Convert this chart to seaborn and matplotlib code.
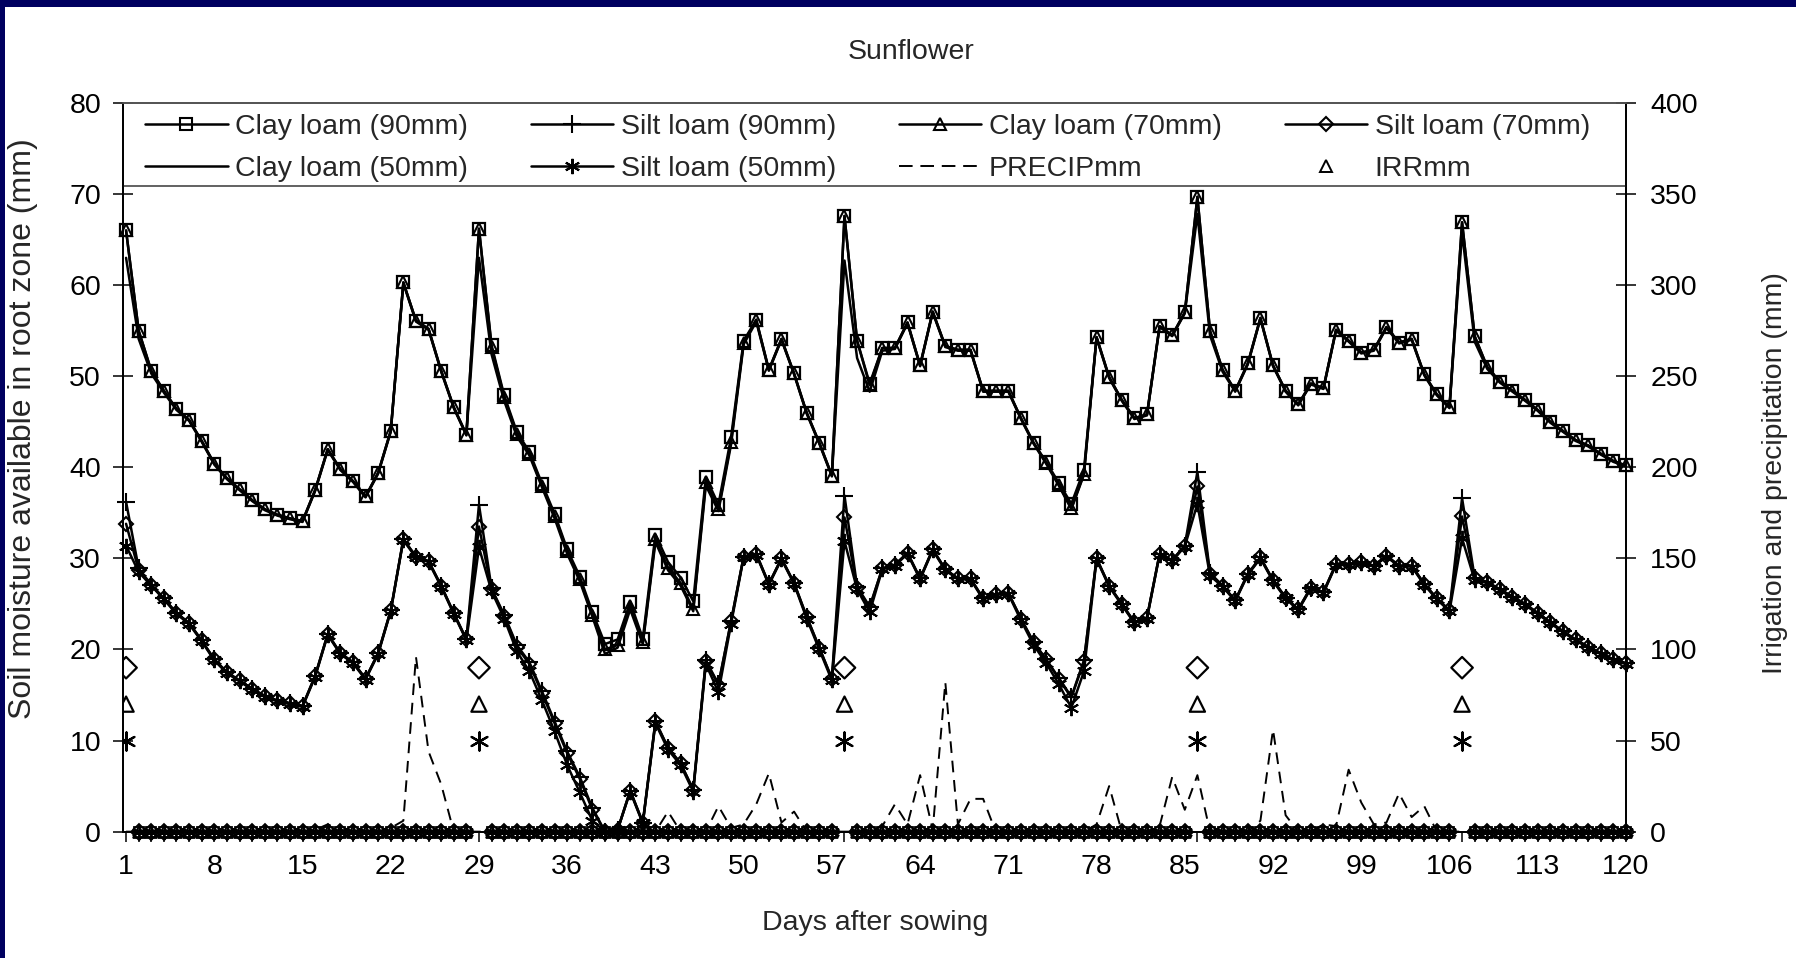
import numpy as np
import matplotlib
matplotlib.use("Agg")
import matplotlib.pyplot as plt
import seaborn as sns
from matplotlib.lines import Line2D
from matplotlib.patches import Rectangle

# ---------------- data ----------------
days = list(range(1, 121))

clay_90 = [66.0, 55.0, 50.6, 48.4, 46.4, 45.2, 42.9, 40.4, 38.8, 37.6,
           36.4, 35.4, 34.8, 34.4, 34.1, 37.5, 42.0, 39.8, 38.5, 36.8,
           39.4, 44.0, 60.3, 56.1, 55.2, 50.6, 46.6, 43.6, 66.2, 53.4,
           47.9, 43.9, 41.7, 38.2, 34.9, 31.0, 28.0, 24.1, 20.6, 21.1,
           25.2, 21.2, 32.6, 29.6, 27.9, 25.3, 38.9, 35.9, 43.3, 53.9,
           56.2, 50.7, 54.1, 50.3, 46.0, 42.7, 39.1, 67.6, 53.9, 49.2,
           53.1, 53.1, 55.9, 51.2, 57.1, 53.3, 52.9, 52.9, 48.4, 48.4,
           48.4, 45.4, 42.7, 40.6, 38.3, 36.0, 39.7, 54.3, 49.9, 47.4,
           45.4, 45.8, 55.5, 54.5, 57.0, 69.7, 55.0, 50.7, 48.4, 51.4,
           56.4, 51.2, 48.4, 46.9, 49.2, 48.7, 55.1, 53.9, 52.6, 52.9,
           55.4, 53.7, 54.1, 50.2, 48.0, 46.6, 66.9, 54.4, 51.0, 49.4,
           48.4, 47.4, 46.3, 45.0, 44.0, 43.0, 42.4, 41.5, 40.7, 40.2]

clay_70 = [66.0, 55.0, 50.6, 48.4, 46.4, 45.2, 42.9, 40.4, 38.8, 37.6,
           36.4, 35.4, 34.8, 34.4, 34.1, 37.5, 42.0, 39.8, 38.5, 36.8,
           39.4, 44.0, 60.3, 56.1, 55.2, 50.6, 46.6, 43.6, 66.2, 53.2,
           47.7, 43.7, 41.5, 38.0, 34.7, 30.8, 27.7, 23.8, 20.0, 20.5,
           24.8, 20.8, 32.1, 29.0, 27.3, 24.4, 38.4, 35.4, 42.8, 53.7,
           56.2, 50.7, 54.1, 50.3, 46.0, 42.7, 39.1, 67.6, 53.9, 49.0,
           53.1, 53.1, 55.9, 51.2, 57.1, 53.3, 52.9, 52.9, 48.4, 48.4,
           48.4, 45.4, 42.7, 40.5, 38.1, 35.5, 39.3, 54.3, 49.9, 47.4,
           45.4, 45.8, 55.5, 54.5, 57.0, 69.7, 55.0, 50.7, 48.4, 51.4,
           56.4, 51.2, 48.4, 46.9, 49.2, 48.7, 55.1, 53.9, 52.6, 52.9,
           55.4, 53.7, 54.1, 50.2, 48.0, 46.6, 66.9, 54.4, 51.0, 49.4,
           48.4, 47.4, 46.3, 45.0, 44.0, 43.0, 42.4, 41.5, 40.7, 40.2]

clay_50 = [63.0, 54.1, 50.3, 48.2, 46.3, 45.1, 42.8, 40.3, 38.7, 37.5,
           36.3, 35.3, 34.7, 34.3, 34.0, 37.4, 41.9, 39.7, 38.4, 36.7,
           39.3, 43.9, 60.2, 56.0, 55.1, 50.5, 46.5, 43.5, 63.0, 52.4,
           47.3, 43.4, 41.3, 37.8, 34.4, 30.5, 27.5, 23.6, 19.5, 20.2,
           24.4, 20.6, 31.8, 28.7, 27.0, 24.2, 38.0, 35.2, 42.5, 53.5,
           56.0, 50.6, 54.0, 50.2, 45.9, 42.6, 39.0, 62.7, 52.0, 48.3,
           52.8, 53.0, 55.8, 51.1, 57.0, 53.2, 52.8, 52.8, 48.3, 48.3,
           48.3, 45.3, 42.6, 40.4, 38.0, 35.4, 39.2, 54.2, 49.8, 47.3,
           45.3, 45.7, 55.4, 54.4, 56.9, 67.8, 54.5, 50.5, 48.3, 51.3,
           56.3, 51.1, 48.3, 46.8, 49.1, 48.6, 55.0, 53.8, 52.5, 52.8,
           55.3, 53.6, 54.0, 50.1, 47.9, 46.5, 65.8, 53.8, 50.8, 49.3,
           48.3, 47.3, 46.2, 44.9, 43.9, 42.9, 42.3, 41.4, 40.6, 40.1]

silt_90 = [36.2, 28.9, 27.1, 25.6, 24.0, 22.9, 21.0, 18.9, 17.5, 16.6,
           15.7, 14.9, 14.4, 14.1, 13.8, 17.1, 21.7, 19.6, 18.6, 16.8,
           19.6, 24.3, 32.1, 30.2, 29.7, 27.0, 24.0, 21.1, 35.9, 26.7,
           23.8, 20.5, 18.6, 15.4, 12.1, 8.8, 6.0, 2.6, 0.0, 0.2,
           4.5, 1.0, 12.1, 9.2, 7.5, 4.6, 18.8, 16.2, 23.1, 30.2,
           30.5, 27.2, 30.0, 27.3, 23.6, 20.2, 16.8, 36.9, 26.9, 24.7,
           28.9, 29.3, 30.6, 27.8, 31.0, 28.8, 27.8, 27.8, 25.6, 26.1,
           26.2, 23.4, 20.8, 18.9, 16.9, 14.8, 18.8, 30.0, 27.0, 25.0,
           23.0, 23.5, 30.5, 29.8, 31.4, 39.5, 28.4, 27.0, 25.4, 28.3,
           30.1, 27.6, 25.7, 24.4, 26.8, 26.3, 29.4, 29.4, 29.6, 29.2,
           30.3, 29.2, 29.2, 27.2, 25.6, 24.3, 36.6, 27.9, 27.4, 26.6,
           25.8, 25.0, 24.0, 23.0, 22.0, 21.1, 20.3, 19.6, 18.9, 18.5]

silt_70 = [33.8, 28.7, 27.1, 25.6, 24.0, 22.9, 21.0, 18.9, 17.5, 16.6,
           15.7, 14.9, 14.4, 14.1, 13.8, 17.1, 21.7, 19.6, 18.6, 16.8,
           19.6, 24.3, 32.1, 30.2, 29.7, 27.0, 24.0, 21.1, 33.5, 26.6,
           23.7, 20.3, 18.4, 15.2, 11.9, 8.6, 5.8, 2.4, 0.0, 0.2,
           4.5, 1.0, 12.1, 9.2, 7.5, 4.6, 18.7, 16.1, 23.1, 30.2,
           30.5, 27.2, 30.0, 27.3, 23.6, 20.2, 16.8, 34.5, 26.8, 24.6,
           28.9, 29.3, 30.6, 27.8, 31.0, 28.8, 27.8, 27.8, 25.6, 26.1,
           26.2, 23.4, 20.8, 18.9, 16.8, 14.7, 18.7, 30.0, 27.0, 25.0,
           23.0, 23.5, 30.5, 29.8, 31.4, 37.9, 28.3, 27.0, 25.4, 28.3,
           30.1, 27.6, 25.7, 24.4, 26.8, 26.3, 29.4, 29.4, 29.6, 29.2,
           30.3, 29.2, 29.2, 27.2, 25.6, 24.3, 34.6, 27.8, 27.4, 26.6,
           25.8, 25.0, 24.0, 23.0, 22.0, 21.1, 20.3, 19.6, 18.9, 18.5]

silt_50 = [31.4, 28.5, 27.0, 25.5, 23.9, 22.8, 20.9, 18.8, 17.4, 16.5,
           15.6, 14.8, 14.3, 14.0, 13.7, 17.0, 21.6, 19.5, 18.5, 16.7,
           19.5, 24.2, 32.0, 30.1, 29.6, 26.9, 23.9, 21.0, 31.2, 26.4,
           23.4, 19.8, 17.6, 14.4, 11.0, 7.3, 4.3, 1.2, 0.0, 0.2,
           4.4, 0.9, 11.9, 9.0, 7.3, 4.4, 18.4, 15.3, 22.8, 30.1,
           30.4, 27.1, 29.9, 27.2, 23.4, 20.0, 16.6, 31.9, 26.6, 24.1,
           28.8, 29.2, 30.5, 27.7, 30.9, 28.7, 27.7, 27.7, 25.5, 26.0,
           26.1, 23.2, 20.5, 18.5, 16.2, 13.6, 17.6, 29.9, 26.9, 24.9,
           22.9, 23.4, 30.4, 29.7, 31.3, 36.0, 28.1, 26.9, 25.3, 28.2,
           30.0, 27.5, 25.6, 24.3, 26.7, 26.2, 29.3, 29.3, 29.5, 29.1,
           30.2, 29.1, 29.1, 27.1, 25.5, 24.2, 32.2, 27.6, 27.3, 26.5,
           25.7, 24.9, 23.9, 22.9, 21.9, 21.0, 20.2, 19.5, 18.8, 18.4]

# precipitation (mm, right axis): days with rain and amounts
precip_days = [16, 17, 18, 22, 23, 24, 25, 26,
               44,
               48, 49, 50, 51, 52, 53, 54,
               61, 62, 63, 64, 65, 66, 67, 68, 69,
               78, 79,
               83, 84, 85, 86,
               91, 92, 93,
               96, 97, 98, 99, 100, 101, 102, 103, 104]
precip_mm = [1, 4, 1, 2, 6, 96, 44, 26,
             11,
             14, 2, 4, 15, 32, 5, 11,
             3, 15, 4, 31, 1, 82, 4, 18, 18,
             4, 25,
             3, 30, 12, 31,
             6, 56, 9,
             4, 3, 34, 16, 4, 5, 21, 8, 14]

# irrigation events (mm, right axis)
irr_days = [1, 29, 58, 86, 107]
irr_levels = [90, 70, 50]

x_ticks = list(range(1, 121, 7))
left_ticks = list(range(0, 81, 10))
right_ticks = list(range(0, 401, 50))

# ---------------- build series ----------------
days_arr = np.array(days)
precip = np.zeros(len(days))
precip[np.array(precip_days) - 1] = precip_mm
is_irr = np.isin(days_arr, irr_days)

# ---------------- style ----------------
sns.set_theme(style="ticks")
plt.rcParams['font.family'] = ['Liberation Sans', 'DejaVu Sans']
plt.rcParams['axes.edgecolor'] = 'black'
plt.rcParams['axes.linewidth'] = 1.2

FS = 20.5
ASTER = (6, 2, 0)
fig = plt.figure(figsize=(17.96, 9.58), dpi=100, facecolor='white')
L, R, T, B = 0.0683, 0.9053, 0.8925, 0.1319
ax = fig.add_axes([L, B, R - L, T - B])
ax2 = ax.twinx()

LW = 1.8
common = dict(color='black', linewidth=LW, estimator=None, sort=False, legend=False, clip_on=False)

# soil moisture series
sns.lineplot(x=days, y=clay_50, ax=ax, **common)
sns.lineplot(x=days, y=clay_70, ax=ax, marker='^', markersize=8.5, markerfacecolor='none',
             markeredgecolor='black', markeredgewidth=1.5, **common)
sns.lineplot(x=days, y=clay_90, ax=ax, marker='s', markersize=9, markerfacecolor='none',
             markeredgecolor='black', markeredgewidth=1.6, **common)
sns.lineplot(x=days, y=silt_50, ax=ax, marker=ASTER, markersize=11,
             markeredgecolor='black', markeredgewidth=1.4, **common)
sns.lineplot(x=days, y=silt_70, ax=ax, marker='D', markersize=7, markerfacecolor='none',
             markeredgecolor='black', markeredgewidth=1.5, **common)
sns.lineplot(x=days, y=silt_90, ax=ax, marker='+', markersize=13,
             markeredgecolor='black', markeredgewidth=1.5, **common)

# precipitation
sns.lineplot(x=days, y=precip, ax=ax2, color='black', linewidth=1.4,
             estimator=None, sort=False, legend=False)
for ln in ax2.get_lines():
    ln.set_linestyle((0, (6, 4)))

# irrigation baseline (zero days) and irrigation events
base = np.where(is_irr, np.nan, 0.0)
base_styles = [('D', 8), ('^', 8), (ASTER, 11), ('s', 7)]
for mk, ms in base_styles:
    ax2.plot(days_arr, base, color='black', linewidth=1.4, marker=mk,
             markersize=ms, markerfacecolor='none', markeredgecolor='black',
             markeredgewidth=1.3, clip_on=False, zorder=3)

event_styles = [('D', 120), ('^', 120), (ASTER, 170)]
for lvl, (mk, s) in zip(irr_levels, event_styles):
    ev = np.where(is_irr, float(lvl), np.nan)
    if mk == ASTER:
        sns.scatterplot(x=days_arr, y=ev, ax=ax2, marker=mk, s=s, color='black',
                        linewidth=1.6, legend=False, zorder=4)
    else:
        sns.scatterplot(x=days_arr, y=ev, ax=ax2, marker=mk, s=s, facecolor='none',
                        edgecolor='black', linewidth=1.6, legend=False, zorder=4)

# ---------------- axes ----------------
ax.set_xlim(0.73, 120)
ax.set_ylim(0, 80)
ax2.set_ylim(0, 400)
ax.set_xticks(x_ticks)
ax.set_xticks(days, minor=True)
ax.set_yticks(left_ticks)
ax2.set_yticks(right_ticks)
ax.set_xlabel("")
ax.set_ylabel("")
ax2.set_ylabel("")

ax.tick_params(axis='x', which='both', direction='out', length=7, width=1.1,
               labelsize=FS, pad=9, colors='black')
ax.tick_params(axis='y', which='major', direction='inout', length=15, width=1.1,
               labelsize=FS, pad=8, colors='black')
ax2.tick_params(axis='y', which='major', direction='inout', length=15, width=1.1,
                labelsize=FS, pad=10, colors='black')

for a in (ax, ax2):
    for s in ('left', 'right', 'bottom'):
        a.spines[s].set_color('black')
        a.spines[s].set_linewidth(1.3)
    a.spines['top'].set_color('#555555')
    a.spines['top'].set_linewidth(1.3)

# legend separator line (bottom of legend box)
ax.axhline(70.9, color='#555555', linewidth=1.3, zorder=5)

# ---------------- legend ----------------
def h(marker=None, ms=8, ls='-', mfc='none', mew=1.5):
    return Line2D([], [], color='black', linewidth=LW, linestyle=ls, marker=marker,
                  markersize=ms, markerfacecolor=mfc, markeredgecolor='black',
                  markeredgewidth=mew)

handles = [h('s', ms=9), h(None),
           h('+', ms=13), h(ASTER, ms=11, mfc='black'),
           h('^', ms=8.5), Line2D([], [], color='black', linewidth=1.4, linestyle=(0, (7, 4))),
           h('D', ms=7), Line2D([], [], linestyle='none', marker='^', markersize=8.5,
                                markerfacecolor='none', markeredgecolor='black',
                                markeredgewidth=1.4)]
labels = ["Clay loam (90mm)", "Clay loam (50mm)",
          "Silt loam (90mm)", "Silt loam (50mm)",
          "Clay loam (70mm)", "PRECIPmm",
          "Silt loam (70mm)", "IRRmm"]
leg = ax2.legend(handles, labels, ncol=4, loc='center', mode='expand',
                 bbox_to_anchor=(0.012, 0.881, 0.967, 0.114), borderaxespad=0,
                 frameon=False, fontsize=FS, handlelength=2.9, handletextpad=0.27,
                 labelspacing=0.56, borderpad=0.15, numpoints=1)

# ---------------- texts ----------------
fig.text(0.507, 0.9462, "Sunflower", ha='center', va='center', fontsize=FS)
fig.text(0.4873, 0.037, "Days after sowing", ha='center', va='center', fontsize=FS)
fig.text(0.0128, 0.5522, "Soil moisture available in root zone (mm)", rotation=90,
         ha='center', va='center', fontsize=23)
fig.text(0.9885, 0.5057, "Irrigation and precipitation (mm)", rotation=90,
         ha='center', va='center', fontsize=FS)

# slide frame
fig.patches.append(Rectangle((0, 1 - 7 / 958), 1, 7 / 958, transform=fig.transFigure,
                             facecolor='#000060', edgecolor='none', zorder=10))
fig.patches.append(Rectangle((0, 0), 5 / 1796, 1, transform=fig.transFigure,
                             facecolor='#000060', edgecolor='none', zorder=10))

fig.savefig("out.png", dpi=100, facecolor='white')
